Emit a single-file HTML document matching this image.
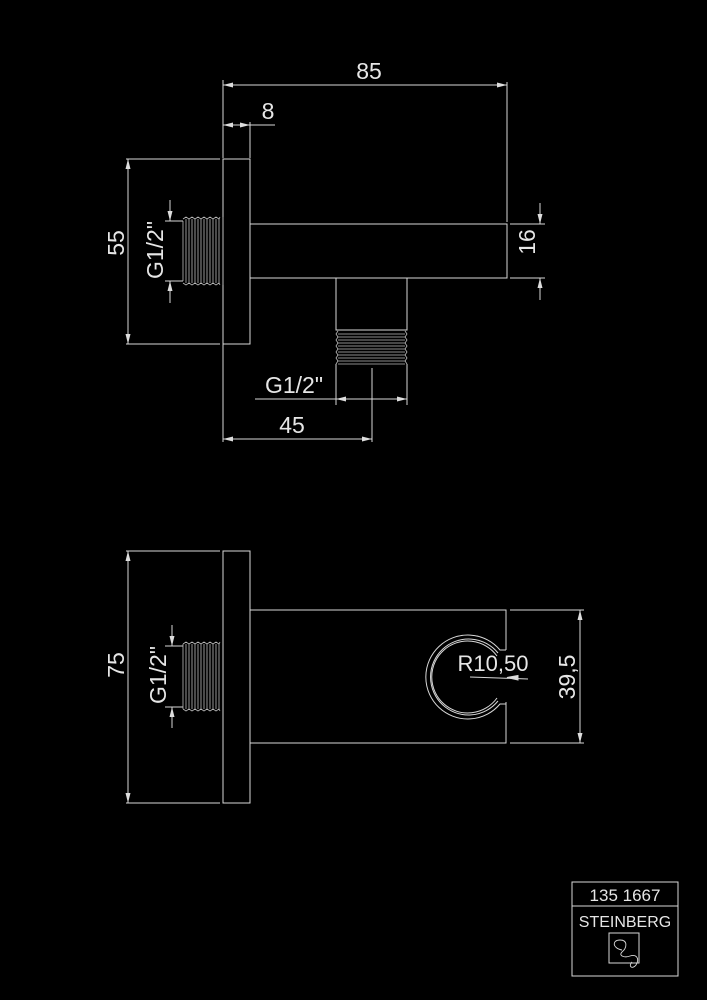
<!DOCTYPE html>
<html><head><meta charset="utf-8"><style>
html,body{margin:0;padding:0;background:#000;}
svg{display:block}
text{font-family:"Liberation Sans",sans-serif;fill:#e6e6e6;}
</style></head><body>
<svg width="707" height="1000" viewBox="0 0 707 1000" xmlns="http://www.w3.org/2000/svg">
<defs>
<marker id="a" viewBox="0 0 10 5" refX="10" refY="2.5" markerWidth="10" markerHeight="5" orient="auto-start-reverse" markerUnits="userSpaceOnUse"><path d="M0,0 L10,2.5 L0,5 z" fill="#ddd"/></marker>
</defs>
<g stroke="#d8d8d8" stroke-width="1" fill="none">
<line x1="223" y1="80" x2="223" y2="158"/>
<line x1="507" y1="82" x2="507" y2="222"/>
<line x1="223" y1="85" x2="507" y2="85" marker-start="url(#a)" marker-end="url(#a)"/>
<line x1="250" y1="122" x2="250" y2="158"/>
<line x1="223" y1="125" x2="250" y2="125" marker-start="url(#a)" marker-end="url(#a)"/>
<line x1="250" y1="125" x2="275" y2="125"/>
<rect x="223" y="159" width="27" height="185"/>
<line x1="126" y1="159" x2="220" y2="159"/>
<line x1="126" y1="344" x2="220" y2="344"/>
<line x1="128" y1="159" x2="128" y2="344" marker-start="url(#a)" marker-end="url(#a)"/>
<line x1="170" y1="200" x2="170" y2="221" marker-end="url(#a)"/>
<line x1="170" y1="303" x2="170" y2="281" marker-end="url(#a)"/>
<line x1="165" y1="221" x2="183" y2="221"/>
<line x1="165" y1="281" x2="183" y2="281"/>
<rect x="250" y="224" width="257" height="54"/>
<line x1="510" y1="224" x2="545" y2="224"/>
<line x1="510" y1="278" x2="545" y2="278"/>
<line x1="540" y1="203" x2="540" y2="224" marker-end="url(#a)"/>
<line x1="540" y1="300" x2="540" y2="278" marker-end="url(#a)"/>
<polyline points="336,278 336,330 407,330 407,278"/>
<line x1="336" y1="364" x2="336" y2="405"/>
<line x1="407" y1="364" x2="407" y2="405"/>
<line x1="255" y1="399" x2="336" y2="399"/>
<line x1="336" y1="399" x2="407" y2="399" marker-start="url(#a)" marker-end="url(#a)"/>
<line x1="372" y1="368" x2="372" y2="442"/>
<line x1="223" y1="344" x2="223" y2="442"/>
<line x1="223" y1="439" x2="372" y2="439" marker-start="url(#a)" marker-end="url(#a)"/>

<rect x="223" y="551" width="27" height="252"/>
<line x1="126" y1="551" x2="220" y2="551"/>
<line x1="126" y1="803" x2="220" y2="803"/>
<line x1="128" y1="551" x2="128" y2="803" marker-start="url(#a)" marker-end="url(#a)"/>
<line x1="172" y1="625" x2="172" y2="646" marker-end="url(#a)"/>
<line x1="172" y1="728" x2="172" y2="707" marker-end="url(#a)"/>
<line x1="165" y1="646" x2="183" y2="646"/>
<line x1="165" y1="707" x2="183" y2="707"/>
<polyline points="506,650 506,610 250,610 250,743 506,743 506,702"/>
<path d="M506,650 L500,650 A42,42 0 1 0 500,704 L506,704"/>
<path d="M498,653 A38,38 0 1 0 498,701"/>
<path d="M497,656 A36,36 0 1 0 497,698"/>
<line x1="510" y1="610" x2="584" y2="610"/>
<line x1="510" y1="743" x2="584" y2="743"/>
<line x1="580" y1="610" x2="580" y2="743" marker-start="url(#a)" marker-end="url(#a)"/>
<line x1="470" y1="677" x2="528" y2="679"/>
<path d="M507,677.5 L518,675.5 L518,680 z" fill="#ddd"/>

<rect x="572" y="882" width="106" height="94"/>
<line x1="572" y1="906" x2="678" y2="906"/>
<rect x="609" y="933" width="30" height="30"/>
<path d="M622,950 C612,948 612,940 620,940 C628,940 627,948 622,952 C618,956 625,958 630,956 C636,954 640,958 636,965 C632,970 628,966 632,962" stroke-width="0.9"/>
</g>

<g stroke="#bbb" stroke-width="0.8" fill="none">
<path d="M183,221 L183,281 M223,217 L223,285"/>
<path d="M183,219 l3,-2 l3,2 l3,-2 l3,2 l3,-2 l3,2 l3,-2 l3,2 l3,-2 l3,2 l3,-2 l3,2 l1,-2"/>
<path d="M183,283 l3,2 l3,-2 l3,2 l3,-2 l3,2 l3,-2 l3,2 l3,-2 l3,2 l3,-2 l3,2 l3,-2 l1,2"/>
<path d="M186,219 V283 M189,219 V283 M192,219 V283 M195,219 V283 M198,219 V283 M201,219 V283 M204,219 V283 M207,219 V283 M210,219 V283 M213,219 V283 M216,219 V283 M219,219 V283"/>
<path d="M183,644 l3,-2 l3,2 l3,-2 l3,2 l3,-2 l3,2 l3,-2 l3,2 l3,-2 l3,2 l3,-2 l3,2 l1,-2"/>
<path d="M183,709 l3,2 l3,-2 l3,2 l3,-2 l3,2 l3,-2 l3,2 l3,-2 l3,2 l3,-2 l3,2 l3,-2 l1,2"/>
<path d="M183,644 V709 M186,644 V709 M189,644 V709 M192,644 V709 M195,644 V709 M198,644 V709 M201,644 V709 M204,644 V709 M207,644 V709 M210,644 V709 M213,644 V709 M216,644 V709 M219,644 V709"/>
<path d="M338,331 l-2,3 l2,3 l-2,3 l2,3 l-2,3 l2,3 l-2,3 l2,3 l-2,3 l2,3 l-2,3"/>
<path d="M405,331 l2,3 l-2,3 l2,3 l-2,3 l2,3 l-2,3 l2,3 l-2,3 l2,3 l-2,3 l2,3"/>
<path d="M338,334 H405 M338,337 H405 M338,340 H405 M338,343 H405 M338,346 H405 M338,349 H405 M338,352 H405 M338,355 H405 M338,358 H405 M338,361 H405 M338,364 H405"/>
</g>

<text x="369" y="79" font-size="23" text-anchor="middle">85</text>
<text x="268" y="119" font-size="23" text-anchor="middle">8</text>
<text transform="translate(124,243) rotate(-90)" font-size="23" text-anchor="middle">55</text>
<text transform="translate(163,250) rotate(-90)" font-size="23" text-anchor="middle">G1/2"</text>
<text transform="translate(535,242) rotate(-90)" font-size="23" text-anchor="middle">16</text>
<text x="294" y="393" font-size="23" text-anchor="middle">G1/2"</text>
<text x="292" y="433" font-size="23" text-anchor="middle">45</text>
<text transform="translate(124,665) rotate(-90)" font-size="23" text-anchor="middle">75</text>
<text transform="translate(166,675) rotate(-90)" font-size="23" text-anchor="middle">G1/2"</text>
<text transform="translate(575,677) rotate(-90)" font-size="23" text-anchor="middle">39,5</text>
<text x="493" y="671" font-size="22" text-anchor="middle">R10,50</text>
<text x="625" y="901" font-size="17" text-anchor="middle">135 1667</text>
<text x="625" y="927" font-size="16" text-anchor="middle" fill="#bbb">STEINBERG</text>
</svg>
</body></html>
